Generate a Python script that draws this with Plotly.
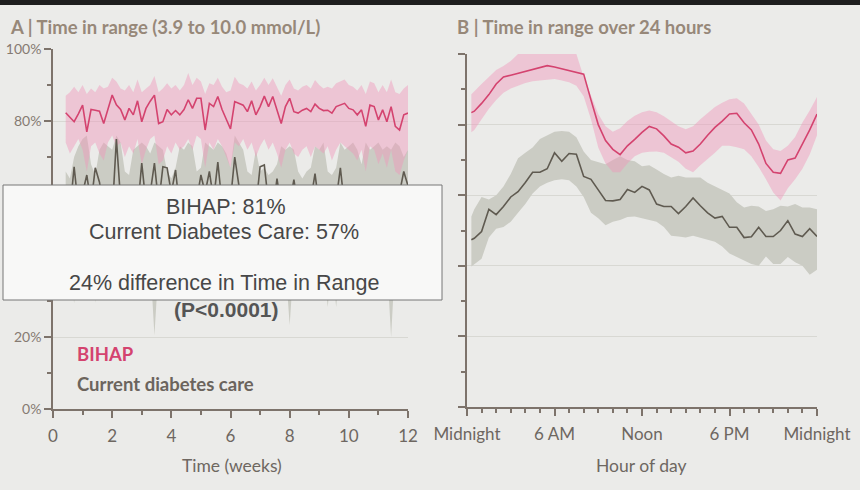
import plotly.graph_objects as go

W, H = 860, 490

# ---- panel A: daily time in range over 12 weeks ----
days = list(range(3, 85))

bihap_week = [82.3, 81, 79.8, 82, 84.4, 77, 83.2, 83, 82.7, 79.3, 83, 87.2, 84.5, 83.2, 80.3, 83.5,
              81.7, 85.6, 79.8, 83.5, 85.5, 87.2, 79.3, 79.8, 83.2, 81.7, 82.9, 81.7, 83.2, 85.9, 83.5, 86.3,
              86.3, 77.5, 84.9, 84, 86.8, 83.2, 80.5, 77.8, 85.4, 85, 84.4, 82.6, 85.6, 81.7, 84, 86.9,
              84, 86.8, 83.1, 79.3, 84, 86.3, 82.6, 82.2, 83, 83.5, 82.6, 84.7, 83.5, 82.9, 83, 82.2,
              84, 84.5, 84.9, 83.5, 83.1, 81.7, 83.1, 78.5, 84.4, 84, 80.3, 83.1, 79.8, 84, 78.5, 77.5,
              81.7, 82.2]
bihap_week_hi = [87, 88, 89.5, 88, 90, 87.5, 89, 88, 90, 89, 89.5, 92, 91, 89, 88.5, 90,
                 88, 91.5, 88, 89, 90, 92.5, 88, 89, 90.5, 89, 90, 88.5, 90, 93.3, 90, 92,
                 91, 87.5, 90.5, 90, 92, 89.5, 88, 88.5, 92.3, 90.5, 90, 89, 91, 88.5, 90, 92,
                 90, 91.9, 89.5, 87, 90, 91.5, 89, 88.5, 89.5, 90, 89, 91.4, 90, 89, 89.5, 89,
                 90.5, 91, 91.5, 90, 89.5, 88.5, 90, 87.5, 91, 90.5, 88, 90, 88, 91.5, 88, 87.5,
                 89, 90]
bihap_week_lo = [74, 71, 73, 75, 72, 66, 73, 74, 71, 69, 74, 76, 73, 74, 70, 73,
                 71, 75, 68, 72, 75, 76, 68, 69, 73, 71, 74, 72, 73, 75, 72, 76,
                 75, 67, 74, 72, 75, 73, 70, 67, 74, 73, 75, 72, 74, 70, 73, 75,
                 72, 74, 71, 67, 72, 74, 71, 70, 72, 73, 70, 73, 72, 71, 73, 69,
                 72, 74, 73, 72, 71, 69, 72, 66, 73, 72, 68, 71, 67, 72, 66, 65,
                 69, 72]
usual_week = [58, 55, 67.3, 56, 60, 65, 57, 67, 63, 55, 56, 54, 75, 58, 54, 53,
              57, 55, 68.3, 57, 60, 68.3, 57, 67.3, 67, 60, 66.4, 55, 56, 54, 57, 58,
              65, 60, 66, 58, 68.6, 57, 55, 58, 70, 62, 58, 62, 55, 56, 67.3, 67.8,
              57, 55, 64, 56, 54, 57, 63.7, 56, 55, 57, 58, 65.4, 56, 55, 54, 57,
              58, 67, 56, 55, 54, 57, 56, 55, 58, 54, 56, 57, 55, 59, 58, 60,
              66, 62]
usual_week_hi = [66, 64, 70, 73, 75, 76, 68, 65, 72, 74, 73, 72, 76, 74, 66, 65,
                 72, 73, 74, 73, 71, 74, 73, 72, 66, 64, 67, 73, 72, 74, 73, 66,
                 67, 74, 73, 72, 74, 73, 71, 67, 76, 74, 72, 66, 65, 72, 66, 67,
                 65, 66, 68, 73, 72, 73, 72, 66, 64, 66, 67, 73, 72, 74, 66, 65,
                 67, 74, 72, 73, 74, 72, 68, 74, 72, 73, 74, 72, 73, 72, 74, 73,
                 70, 72]
usual_week_lo = [42, 40, 29.4, 41, 43, 40, 42, 29.5, 41, 43, 42, 44, 41, 40, 42, 43,
                 41, 40, 42, 44, 41, 20.5, 40, 42, 43, 41, 40, 42, 43, 41, 42, 40,
                 41, 43, 42, 40, 41, 43, 42, 40, 41, 43, 42, 40, 41, 42, 43, 41,
                 40, 42, 43, 41, 40, 23.3, 41, 42, 43, 40, 41, 42, 43, 41, 28.3, 40,
                 28.3, 41, 42, 43, 40, 41, 42, 40, 41, 43, 42, 40, 41, 20, 42, 40,
                 41, 42]

# ---- panel B: time in range by hour of day ----
hours = [0.3, 0.5, 1, 1.5, 2, 2.5, 3, 3.5, 4, 4.5, 5, 5.5, 6, 6.5, 7, 7.5, 8, 8.5, 9, 9.5,
         10, 10.5, 11, 11.5, 12, 12.5, 13, 13.5, 14, 14.5, 15, 15.5, 16, 16.5, 17, 17.5,
         18, 18.5, 19, 19.5, 20, 20.5, 21, 21.5, 22, 22.5, 23, 23.5, 24]

bihap_day = [83.4, 83.8, 86, 88.5, 91.5, 93.5, 94, 94.5, 95, 95.5, 96, 96.7, 96.3, 95.8, 95.5, 95,
             94.3, 87, 80, 75.5, 73, 71.5, 74, 75.8, 77.8, 79.5, 78.8, 76.8, 74.5, 73.6, 72, 72.5,
             74.5, 77, 79.2, 81, 83, 83.2, 80.5, 78.5, 74.5, 69, 66.5, 66.2, 70, 70.5, 74.5, 78.5, 83]
bihap_day_hi = [88.6, 89.5, 91.5, 93.5, 95.5, 96.6, 98, 100, 100, 100, 100, 100, 100, 100, 100, 100,
                93.5, 88, 83, 79.5, 78, 79, 81, 82.5, 83.5, 84, 83.5, 82.4, 81, 79.5, 78.7, 79.5,
                81.5, 83.2, 85, 86.2, 87.2, 87.5, 86, 83, 80, 75.5, 73, 72.5, 74, 76.5, 80.6, 84, 87.8]
bihap_day_lo = [77.8, 78.5, 81.5, 84.5, 87, 89, 90.2, 91, 91.8, 92.3, 92.5, 92.7, 92.9, 92.5, 92, 91,
                88, 81.5, 73.5, 69, 66.5, 66.5, 69, 71, 72, 72.3, 72.4, 72, 70.8, 69.5, 67.5, 66.5,
                68.5, 70.2, 72, 74, 74, 73.6, 73, 71, 68, 64.5, 60.8, 58.5, 62, 64.5, 67.5, 71.5, 77]
usual_day = [47.4, 47.8, 49.7, 56, 54.5, 56.8, 59.5, 61, 63.6, 66.5, 66.5, 67.5, 72, 69.6, 71.8, 71.6,
             65.3, 64.5, 61.5, 58.5, 58.4, 58.8, 61.6, 60.8, 62.5, 61.5, 57.5, 56.8, 56.8, 54.8, 56.8, 59.2,
             57, 55, 53.5, 54, 50.9, 50.9, 48, 48.2, 50.9, 48.3, 48.3, 50, 52.8, 49, 48.3, 50.5, 48.3]
usual_day_hi = [54, 56, 59.5, 58.8, 60, 62.5, 66, 70.5, 72, 73.5, 75.9, 77, 78, 78.2, 78, 76.4,
                72.4, 70, 69.5, 68.8, 70, 71, 70, 69.6, 68.2, 68.5, 67.3, 66, 65, 65.5, 65, 65,
                65, 63.5, 62.5, 61.5, 60.5, 58, 56.5, 57, 56.8, 55.5, 56, 57, 56.8, 57.5, 56.5, 56.5, 56]
usual_day_lo = [39.8, 40.5, 42, 48, 50.5, 51, 52.5, 55, 57.5, 60.5, 62.5, 63.5, 64.2, 64.5, 64.2, 62.5,
                59.5, 55, 53.5, 51.5, 52.5, 53, 53.8, 54, 53.5, 53, 52.5, 51, 48.5, 48.3, 48, 48.5,
                48, 47.5, 46.8, 45.5, 43.5, 42.5, 41.5, 40.5, 40, 42.6, 40.5, 40.5, 42.5, 41, 40, 37.5, 38.9]

y_ticks = [0, 20, 40, 60, 80, 100]
y_labels = ['0%', '20%', '40%', '60%', '80%', '100%']
week_ticks = [0, 2, 4, 6, 8, 10, 12]
hour_ticks = [0, 6, 12, 18, 24]
hour_labels = ['Midnight', '6 AM', 'Noon', '6 PM', 'Midnight']

PINK = '#d4436f'
PINK_BAND = 'rgba(240,150,186,0.45)'
GREY = '#5f5a50'
GREY_BAND = 'rgb(203,204,196)'
AXIS = '#7d736b'
TEXT = '#6e6761'
BG = '#ebebe9'


def px(x):
    return x / W


def py(y):
    return 1 - y / H


fig = go.Figure()


def add_band(x, lo, hi, color, xa, ya):
    fig.add_trace(go.Scatter(x=x, y=lo, mode='lines', line=dict(width=0),
                             xaxis=xa, yaxis=ya, showlegend=False, hoverinfo='skip'))
    fig.add_trace(go.Scatter(x=x, y=hi, mode='lines', line=dict(width=0), fill='tonexty',
                             fillcolor=color, xaxis=xa, yaxis=ya, showlegend=False, hoverinfo='skip'))


weeks = [d / 7 for d in days]

# panel A
add_band(weeks, usual_week_lo, usual_week_hi, GREY_BAND, 'x', 'y')
add_band(weeks, bihap_week_lo, bihap_week_hi, PINK_BAND, 'x', 'y')
fig.add_trace(go.Scatter(x=weeks, y=usual_week, mode='lines', line=dict(color=GREY, width=1.6),
                         xaxis='x', yaxis='y', showlegend=False))
fig.add_trace(go.Scatter(x=weeks, y=bihap_week, mode='lines', line=dict(color=PINK, width=1.6),
                         xaxis='x', yaxis='y', showlegend=False))

# panel B
add_band(hours, usual_day_lo, usual_day_hi, GREY_BAND, 'x2', 'y2')
add_band(hours, bihap_day_lo, bihap_day_hi, PINK_BAND, 'x2', 'y2')
fig.add_trace(go.Scatter(x=hours, y=usual_day, mode='lines', line=dict(color=GREY, width=1.6),
                         xaxis='x2', yaxis='y2', showlegend=False))
fig.add_trace(go.Scatter(x=hours, y=bihap_day, mode='lines', line=dict(color=PINK, width=1.6),
                         xaxis='x2', yaxis='y2', showlegend=False))

tick_font = dict(family='Lato, sans-serif', size=17, color=TEXT)
common_x = dict(showline=True, linecolor=AXIS, linewidth=1.5, ticks='outside', ticklen=7,
                tickcolor=AXIS, tickwidth=1.5, showgrid=False, zeroline=False, automargin=False,
                tickfont=tick_font, ticklabelstandoff=4)
common_y = dict(range=[0, 100], showline=True, linecolor=AXIS, linewidth=1.5, ticks='outside',
                ticklen=7, tickcolor=AXIS, tickwidth=1.5, showgrid=True, gridcolor='#d8d8d3',
                gridwidth=1, zeroline=False, tickmode='array', tickvals=y_ticks, automargin=False,
                minor=dict(ticks='outside', ticklen=4, tickcolor=AXIS, dtick=10, showgrid=False))

fig.update_layout(
    width=W, height=H,
    margin=dict(l=0, r=0, t=0, b=0, autoexpand=False),
    paper_bgcolor=BG, plot_bgcolor=BG,
    xaxis=dict(common_x, domain=[px(53), px(408)], range=[0, 12], anchor='y',
               tickmode='array', tickvals=week_ticks,
               minor=dict(ticks='outside', ticklen=4, tickcolor=AXIS, dtick=1)),
    yaxis=dict(common_y, domain=[py(409), py(49)], anchor='x', ticktext=y_labels,
               tickfont=dict(family='Lato, sans-serif', size=14, color='#857a72')),
    xaxis2=dict(common_x, domain=[px(467), px(817)], range=[0, 24], anchor='y2',
                tickmode='array', tickvals=hour_ticks, ticktext=hour_labels,
                minor=dict(ticks='outside', ticklen=4, tickcolor=AXIS, dtick=1)),
    yaxis2=dict(common_y, domain=[py(407), py(54)], anchor='x2', showticklabels=False),
)

shapes = [
    dict(type='rect', xref='paper', yref='paper', x0=0, x1=1, y0=py(5), y1=1,
         fillcolor='#1e1e1e', line=dict(width=0)),
    dict(type='rect', xref='paper', yref='paper', x0=px(3), x1=px(442), y0=py(300), y1=py(185),
         fillcolor='#f8f8f7', line=dict(color='#777777', width=1)),
]
fig.update_layout(shapes=shapes)

title_font = dict(family='Lato, sans-serif', size=18.5, color='#978879', weight=700)
box_font = dict(family='Liberation Sans, Arial, sans-serif', size=21.5, color='#474747')
axis_title_font = dict(family='Lato, sans-serif', size=17.5, color=TEXT)

annotations = [
    dict(text='A | Time in range (3.9 to 10.0 mmol/L)', x=px(8), y=py(27), xanchor='left',
         font=title_font),
    dict(text='B | Time in range over 24 hours', x=px(455), y=py(27), xanchor='left',
         font=title_font),
    dict(text='BIHAP: 81%', x=px(226), y=py(207), font=box_font),
    dict(text='Current Diabetes Care: 57%', x=px(224), y=py(232), font=box_font),
    dict(text='24% difference in Time in Range', x=px(224), y=py(283), font=box_font),
    dict(text='<b>(P<0.0001)</b>', x=px(226), y=py(309),
         font=dict(family='Liberation Sans, Arial, sans-serif', size=21, color='#555555')),
    dict(text='<b>BIHAP</b>', x=px(75), y=py(354), xanchor='left',
         font=dict(family='Lato, sans-serif', size=18.5, color=PINK)),
    dict(text='<b>Current diabetes care</b>', x=px(75), y=py(384), xanchor='left',
         font=dict(family='Lato, sans-serif', size=18.5, color='#6b645d')),
    dict(text='Time (weeks)', x=px(232), y=py(465), font=axis_title_font),
    dict(text='Hour of day', x=px(641), y=py(465), font=axis_title_font),
]
for a in annotations:
    a.setdefault('xanchor', 'center')
    fig.add_annotation(xref='paper', yref='paper', yanchor='middle', showarrow=False, **a)

fig.write_html('out.html', config={'displayModeBar': False},
               post_script="document.body.style.margin='0';")
